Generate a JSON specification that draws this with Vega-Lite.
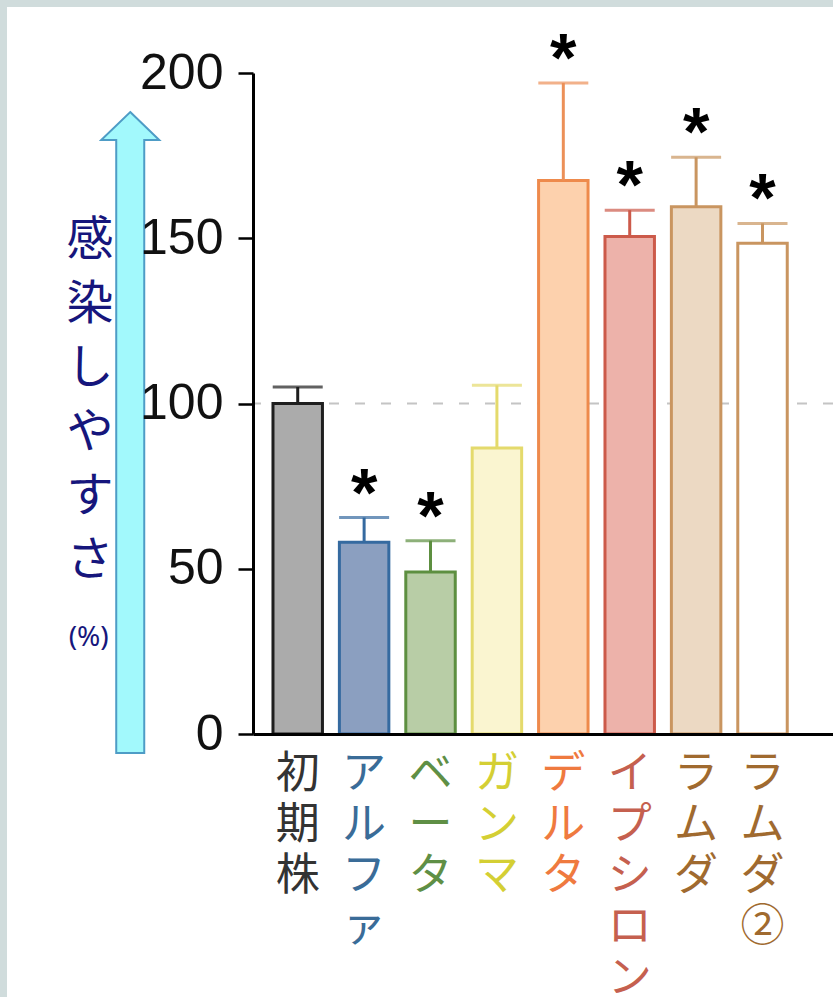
{
  "$schema": "https://vega.github.io/schema/vega-lite/v6.json",
  "width": 580,
  "height": 661,
  "autosize": {"type": "pad"},
  "padding": {"left": 7, "top": 6, "right": 0, "bottom": 0},
  "background": "#d0dcdc",
  "config": {"view": {"stroke": null}, "font": "Liberation Sans"},
  "resolve": {"scale": {"x": "independent"}},
  "layer": [
    {
      "data": {"values": [{}]},
      "layer": [
        {
          "mark": {"type": "rect", "fill": "white", "clip": false},
          "encoding": {
            "x": {"datum": -246, "type": "quantitative", "scale": {"domain": [0, 580]}, "axis": null},
            "x2": {"datum": 580},
            "y": {"datum": 220, "type": "quantitative", "scale": {"domain": [0, 200]}},
            "y2": {"datum": -80}
          }
        },
        {
          "mark": {"type": "rule", "stroke": "#c4c4c4", "strokeWidth": 2, "strokeDash": [10, 16]},
          "encoding": {
            "y": {"datum": 100, "type": "quantitative", "scale": {"domain": [0, 200]}}
          }
        }
      ]
    },
    {
      "data": {
        "values": [
          {"variant": "初期株", "value": 100, "upper": 105, "significance": ""},
          {"variant": "アルファ", "value": 58, "upper": 65.5, "significance": "*"},
          {"variant": "ベータ", "value": 49, "upper": 58.5, "significance": "*"},
          {"variant": "ガンマ", "value": 86.5, "upper": 105.5, "significance": ""},
          {"variant": "デルタ", "value": 167.5, "upper": 197, "significance": "*"},
          {"variant": "イプシロン", "value": 150.5, "upper": 158.5, "significance": "*"},
          {"variant": "ラムダ", "value": 159.5, "upper": 174.5, "significance": "*"},
          {"variant": "ラムダ②", "value": 148.5, "upper": 154.5, "significance": "*"}
        ]
      },
      "resolve": {"scale": {"fill": "independent"}},
      "encoding": {
        "x": {
          "field": "variant",
          "type": "nominal",
          "sort": null,
          "scale": {
            "domain": ["初期株", "アルファ", "ベータ", "ガンマ", "デルタ", "イプシロン", "ラムダ", "ラムダ②"],
            "paddingInner": 0.255,
            "paddingOuter": 0.495,
            "align": 0.304
          },
          "axis": {"title": null, "labels": false, "ticks": false, "domainColor": "black", "domainWidth": 3, "zindex": 3}
        }
      },
      "layer": [
        {
          "mark": {"type": "bar", "strokeWidth": 3},
          "encoding": {
            "y": {
              "field": "value",
              "type": "quantitative",
              "scale": {"domain": [0, 200]},
              "axis": {
                "title": null,
                "values": [0, 50, 100, 150, 200],
                "grid": false,
                "domainColor": "black",
                "domainWidth": 3,
                "tickColor": "black",
                "tickWidth": 2.5,
                "tickSize": 15,
                "labelFont": "Liberation Sans",
                "labelFontSize": 50,
                "labelColor": "#111111",
                "labelPadding": 15,
                "zindex": 3
              }
            },
            "fill": {
              "field": "variant",
              "type": "nominal",
              "scale": {
                "domain": ["初期株", "アルファ", "ベータ", "ガンマ", "デルタ", "イプシロン", "ラムダ", "ラムダ②"],
                "range": ["#ababab", "#8b9fc0", "#b8cda6", "#faf5d0", "#fdd1ad", "#edb2aa", "#ecd9c3", "#ffffff"]
              },
              "legend": null
            },
            "stroke": {
              "field": "variant",
              "type": "nominal",
              "scale": {
                "domain": ["初期株", "アルファ", "ベータ", "ガンマ", "デルタ", "イプシロン", "ラムダ", "ラムダ②"],
                "range": ["#1e1e1e", "#356aa0", "#5d8f40", "#e4da6c", "#ee8a4c", "#cc5a4a", "#c99560", "#c99560"]
              },
              "legend": null
            }
          }
        },
        {
          "mark": {"type": "rule", "strokeWidth": 3},
          "encoding": {
            "y": {"field": "value", "type": "quantitative", "scale": {"domain": [0, 200]}},
            "y2": {"field": "upper"},
            "color": {
              "field": "variant",
              "type": "nominal",
              "scale": {
                "domain": ["初期株", "アルファ", "ベータ", "ガンマ", "デルタ", "イプシロン", "ラムダ", "ラムダ②"],
                "range": ["#1e1e1e", "#356aa0", "#5d8f40", "#e4da6c", "#ec9058", "#cc5a4a", "#c99560", "#c99560"]
              },
              "legend": null
            }
          }
        },
        {
          "mark": {"type": "tick", "thickness": 3, "size": 50},
          "encoding": {
            "y": {"field": "upper", "type": "quantitative", "scale": {"domain": [0, 200]}},
            "color": {"field": "variant", "type": "nominal", "legend": null}
          }
        },
        {
          "transform": [{"filter": "datum.significance == '*'"}],
          "mark": {"type": "text", "font": "Liberation Sans", "fontWeight": "bold", "fontSize": 68, "baseline": "alphabetic", "dy": -2, "fill": "black"},
          "encoding": {
            "y": {"field": "upper", "type": "quantitative", "scale": {"domain": [0, 200]}},
            "text": {"field": "significance"}
          }
        },
        {
          "transform": [{"calculate": "split(datum.variant, '')", "as": "chars"}],
          "mark": {"type": "text", "font": "Noto Sans CJK JP", "fontSize": 44, "lineHeight": 51, "baseline": "top", "dy": 19},
          "encoding": {
            "y": {"datum": 0, "type": "quantitative", "scale": {"domain": [0, 200]}},
            "text": {"field": "chars"},
            "fill": {
              "field": "variant",
              "type": "nominal",
              "scale": {
                "domain": ["初期株", "アルファ", "ベータ", "ガンマ", "デルタ", "イプシロン", "ラムダ", "ラムダ②"],
                "range": ["#333333", "#3a6c98", "#5f8f45", "#d4cf34", "#ef7a3f", "#c5604f", "#a06a2f", "#a06a2f"]
              },
              "legend": null
            }
          }
        }
      ]
    },
    {
      "data": {"values": [{}]},
      "layer": [
        {
          "mark": {
            "type": "point",
            "shape": "M0,-1L0.0905,-0.9126L0.0437,-0.9126L0.0437,1L-0.0437,1L-0.0437,-0.9126L-0.0905,-0.9126Z",
            "size": 410881,
            "filled": true,
            "fill": "#a2f9fc",
            "stroke": "#4e9cc6",
            "strokeWidth": 2,
            "opacity": 1
          },
          "encoding": {
            "x": {"datum": -127, "type": "quantitative", "scale": {"domain": [0, 580]}, "axis": null},
            "y": {"datum": 91.2, "type": "quantitative", "scale": {"domain": [0, 200]}}
          }
        },
        {
          "mark": {"type": "text", "font": "Noto Sans CJK JP", "fontSize": 47, "lineHeight": 64, "baseline": "middle", "align": "center", "fill": "#16167c"},
          "encoding": {
            "x": {"datum": -168.5, "type": "quantitative"},
            "y": {"datum": 149.2, "type": "quantitative"},
            "text": {"value": ["感", "染", "し", "や", "す", "さ"]}
          }
        },
        {
          "mark": {"type": "text", "font": "Noto Sans", "fontSize": 28, "baseline": "middle", "align": "center", "fill": "#16167c"},
          "encoding": {
            "x": {"datum": -170, "type": "quantitative"},
            "y": {"datum": 29, "type": "quantitative"},
            "text": {"value": "(%)"}
          }
        }
      ]
    }
  ]
}
